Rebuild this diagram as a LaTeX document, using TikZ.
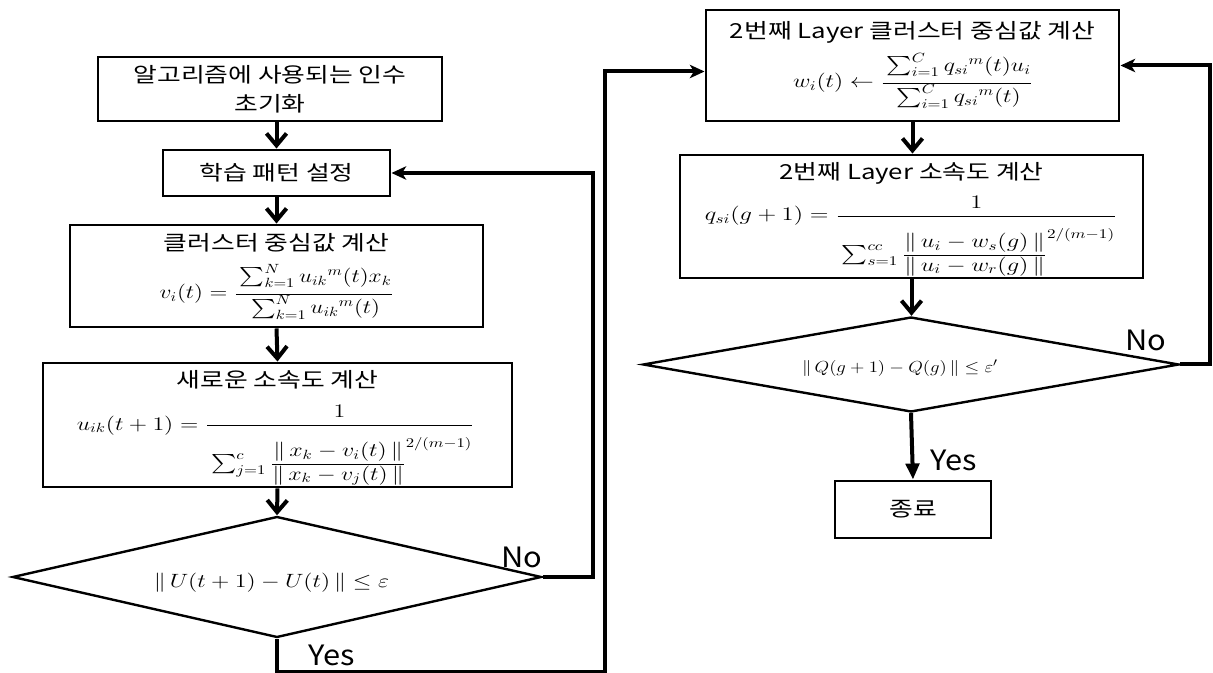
\documentclass[tikz,border=0pt]{standalone}
\usepackage{amsmath}
\usepackage{graphicx}
\usepackage{fontspec}
\setmainfont[FakeStretch=1.25]{Noto Sans CJK KR}
\newfontfamily\lblfont[FakeStretch=1.1]{Noto Sans CJK KR}
\usetikzlibrary{arrows.meta,shapes.geometric}
\newcommand{\wmath}[2][1.3]{\scalebox{#1}[1]{$\textstyle #2$}}
\newcommand{\cfr}[2]{\frac{\textstyle \rule[-8pt]{0pt}{1pt}#1}{\textstyle \rule{0pt}{13pt}#2}}
\newcommand{\ofr}[2]{\frac{\textstyle \rule[-5pt]{0pt}{1pt}#1}{\textstyle \rule{0pt}{32pt}#2}}
\newcommand{\ifr}[2]{\frac{\textstyle \rule[-5pt]{0pt}{1pt}#1}{\textstyle \rule{0pt}{11pt}#2}}
\begin{document}
\begin{tikzpicture}[x=0.75pt,y=-0.75pt,
  box/.style={draw, rectangle, line width=2.2pt, inner sep=0pt, fill=white, font=\fontsize{15.5}{21.75}\selectfont, align=center},
  dia/.style={draw, diamond, line width=1.8pt, inner sep=0pt, fill=white},
  ttl/.style={inner sep=0pt, font=\fontsize{15.5}{21.75}\selectfont},
  fml/.style={inner sep=0pt, anchor=base, font=\fontsize{14.5}{16}\selectfont},
  lbl/.style={inner sep=0pt, font=\lblfont\fontsize{21}{24}\selectfont},
  conn/.style={line width=3pt},
  darr/.style={conn, -{Straight Barb[length=9pt,width=15pt]}},
  harr/.style={conn, -{Stealth[length=11pt,width=10pt,inset=3pt]}},
  yarr/.style={conn, -{Triangle[length=12pt,width=10pt]}}]
\useasboundingbox (0,0) rectangle (1213,673);
\fill[white] (0,0) rectangle (1213,673);

% left column
\node[box, minimum width=258pt, minimum height=48pt] (b1) at (270,89) {알고리즘에 사용되는 인수\\초기화};
\node[box, minimum width=170.25pt, minimum height=34.5pt] (b2) at (276.5,173) {학습 패턴 설정};
\node[box, minimum width=309.75pt, minimum height=76.5pt] (b3) at (276.5,276) {};
\node[ttl] (b3t) at (276.5,243) {클러스터 중심값 계산};
\node[fml] (b3f) at (276.5,299) {\wmath[1.22]{v_i(t)=\cfr{\sum\nolimits_{k=1}^{N} u_{ik}{}^{m}(t)x_k}{\sum\nolimits_{k=1}^{N} u_{ik}{}^{m}(t)}}};
\node[box, minimum width=351.75pt, minimum height=93pt] (b4) at (277.5,425) {};
\node[ttl] (b4t) at (277.5,380) {새로운 소속도 계산};
\node[fml] (b4f) at (275.5,430) {\wmath[1.25]{u_{ik}(t+1)=\ofr{1}{\sum\nolimits_{j=1}^{c}\ifr{\|\,x_k-v_i(t)\,\|}{\|\,x_k-v_j(t)\,\|}^{2/(m-1)}}}};
\node[dia, minimum width=396.75pt, minimum height=90.75pt, aspect=4.4] (d1) at (277,577) {};
\node[fml, anchor=center] (d1t) at (271.5,583) {\wmath[1.25]{\|\,U(t+1)-U(t)\,\|\leq\varepsilon}};

% right column
\node[box, minimum width=309.75pt, minimum height=83.25pt] (rb1) at (912.5,65.5) {};
\node[ttl] (rb1t) at (912.5,32) {2번째 Layer 클러스터 중심값 계산};
\node[fml] (rb1f) at (913,88) {\wmath[1.25]{w_i(t)\leftarrow\cfr{\sum\nolimits_{i=1}^{C} q_{si}{}^{m}(t)u_i}{\sum\nolimits_{i=1}^{C} q_{si}{}^{m}(t)}}};
\node[box, minimum width=347.25pt, minimum height=92.25pt] (rb2) at (911.5,216.5) {};
\node[ttl] (rb2t) at (911.5,173) {2번째 Layer 소속도 계산};
\node[fml] (rb2f) at (911,221) {\wmath[1.28]{q_{si}(g+1)=\ofr{1}{\sum\nolimits_{s=1}^{cc}\ifr{\|\,u_i-w_s(g)\,\|}{\|\,u_i-w_r(g)\,\|}^{2/(m-1)}}}};
\node[dia, minimum width=402pt, minimum height=71.25pt, aspect=5.6] (d2) at (911,364.5) {};
\node[fml, anchor=center, font=\fontsize{12.5}{14}\selectfont] (d2t) at (900,368) {\wmath[1.18]{\|\,Q(g+1)-Q(g)\,\|\leq\varepsilon'}};
\node[box, minimum width=117pt, minimum height=42.75pt] (end) at (913,509.5) {종료};

% labels
\node[lbl] (no1) at (522,557) {No};
\node[lbl] (yes1) at (332,655) {Yes};
\node[lbl] (no2) at (1146,340) {No};
\node[lbl] (yes2) at (954,460) {Yes};

% connectors
\coordinate (n1) at (593,0);
\coordinate (y1) at (605,672);
\coordinate (n2) at (1210,0);
\draw[darr] (b1.south -| b2.north) -- (b2.north);
\draw[darr] (b2.south) -- (b3.north);
\draw[darr] (b3.south) -- (b4.north);
\draw[darr] (b4.south) -- (d1.north);
\draw[harr] (d1.east) -- (d1.east -| n1) |- (b2.east);
\draw[harr] (d1.south) |- (y1) |- ([yshift=-4.5pt]rb1.west);
\draw[darr] (rb1.south) -- (rb1.south |- rb2.north);
\draw[darr] (rb2.south) -- (rb2.south |- d2.north);
\draw[yarr] (d2.south) -- (end.north);
\draw[harr] (d2.east) -- (d2.east -| n2) |- (rb1.east);
\end{tikzpicture}
\end{document}
